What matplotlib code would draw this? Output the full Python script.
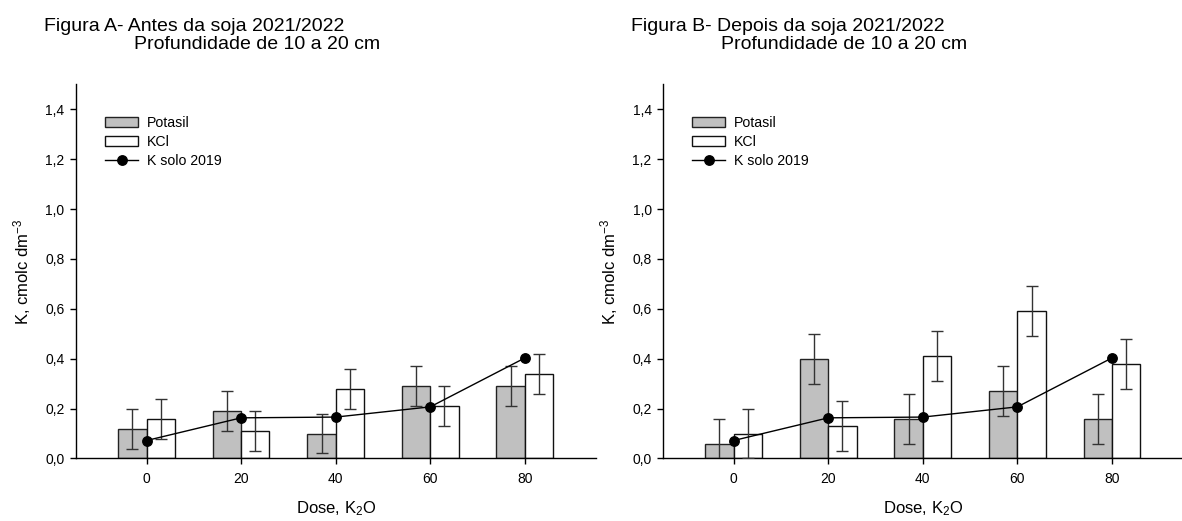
import matplotlib
matplotlib.use("Agg")
import matplotlib.pyplot as plt
from matplotlib.lines import Line2D
from matplotlib.patches import Patch

plt.rcParams["font.family"] = ["Liberation Sans", "DejaVu Sans"]
plt.rcParams["mathtext.fontset"] = "custom"
plt.rcParams["mathtext.rm"] = "Liberation Sans"
plt.rcParams["mathtext.it"] = "Liberation Sans"

# dados
doses = [0, 20, 40, 60, 80]
ytick_vals = [0.0, 0.2, 0.4, 0.6, 0.8, 1.0, 1.2, 1.4]
ytick_labels = ["0,0", "0,2", "0,4", "0,6", "0,8", "1,0", "1,2", "1,4"]

potasil_a = [0.12, 0.19, 0.10, 0.29, 0.29]
potasil_a_err = [0.08, 0.08, 0.08, 0.08, 0.08]
kcl_a = [0.16, 0.11, 0.28, 0.21, 0.34]
kcl_a_err = [0.08, 0.08, 0.08, 0.08, 0.08]

potasil_b = [0.06, 0.40, 0.16, 0.27, 0.16]
potasil_b_err = [0.10, 0.10, 0.10, 0.10, 0.10]
kcl_b = [0.10, 0.13, 0.41, 0.59, 0.38]
kcl_b_err = [0.10, 0.10, 0.10, 0.10, 0.10]

k_solo_2019 = [0.072, 0.163, 0.166, 0.207, 0.403]

titles = [("Figura A- Antes da soja 2021/2022", "Profundidade de 10 a 20 cm"),
          ("Figura B- Depois da soja 2021/2022", "Profundidade de 10 a 20 cm")]

GRAY = "#c0c0c0"
ERR = "#333333"
BW = 6

fig = plt.figure(figsize=(11.82, 5.21), dpi=100)
ax_a = fig.add_axes([0.064, 0.12, 0.44, 0.718])
ax_b = fig.add_axes([0.5607, 0.12, 0.44, 0.718])

panels = [
    (ax_a, potasil_a, potasil_a_err, kcl_a, kcl_a_err),
    (ax_b, potasil_b, potasil_b_err, kcl_b, kcl_b_err),
]

for ax, pot, pot_e, kcl, kcl_e in panels:
    xp = [d - BW / 2 for d in doses]
    xk = [d + BW / 2 for d in doses]
    ax.bar(xp, pot, width=BW, color=GRAY, edgecolor="#222222", linewidth=1, zorder=2)
    ax.bar(xk, kcl, width=BW, color="white", edgecolor="#111111", linewidth=1, zorder=2)
    ax.errorbar(xp, pot, yerr=pot_e, fmt="none", ecolor=ERR, elinewidth=1,
                capsize=4, capthick=1, zorder=3)
    ax.errorbar(xk, kcl, yerr=kcl_e, fmt="none", ecolor=ERR, elinewidth=1,
                capsize=4, capthick=1, zorder=3)
    ax.plot(doses, k_solo_2019, color="black", linewidth=1, marker="o",
            markersize=6.8, zorder=4, clip_on=False)

    ax.set_xlim(-15, 95)
    ax.set_ylim(0, 1.5)
    ax.set_xticks(doses)
    ax.set_xticklabels([str(d) for d in doses])
    ax.set_yticks(ytick_vals)
    ax.set_yticklabels(ytick_labels)
    for s in ["top", "right"]:
        ax.spines[s].set_visible(False)
    for s in ["left", "bottom"]:
        ax.spines[s].set_linewidth(1)
        ax.spines[s].set_color("black")
    ax.tick_params(axis="both", direction="out", length=4, width=1, labelsize=10)
    ax.tick_params(axis="x", pad=6)
    ax.tick_params(axis="y", pad=4)
    ax.set_xlabel(r"Dose, K$_{2}$O", fontsize=12, labelpad=9)
    ax.set_ylabel(r"K, cmolc dm$^{-3}$", fontsize=12, labelpad=9)

    handles = [Patch(facecolor=GRAY, edgecolor="#222222", linewidth=1),
               Patch(facecolor="white", edgecolor="#111111", linewidth=1),
               Line2D([], [], color="black", linewidth=1, marker="o", markersize=6.8)]
    ax.legend(handles, ["Potasil", "KCl", "K solo 2019"], loc="upper left",
              bbox_to_anchor=(0.046, 0.93), frameon=False, fontsize=10.2,
              handlelength=2.3, handleheight=0.7, handletextpad=0.65,
              labelspacing=0.33, borderaxespad=0)

for (t1, t2), x1, x2 in zip(titles, [44, 631], [134, 721]):
    fig.text(x1 / 1182, 1 - 30.7 / 521, t1, fontsize=14, va="baseline", ha="left")
    fig.text(x2 / 1182, 1 - 48.8 / 521, t2, fontsize=14, va="baseline", ha="left")

fig.savefig("out.png", dpi=100)
